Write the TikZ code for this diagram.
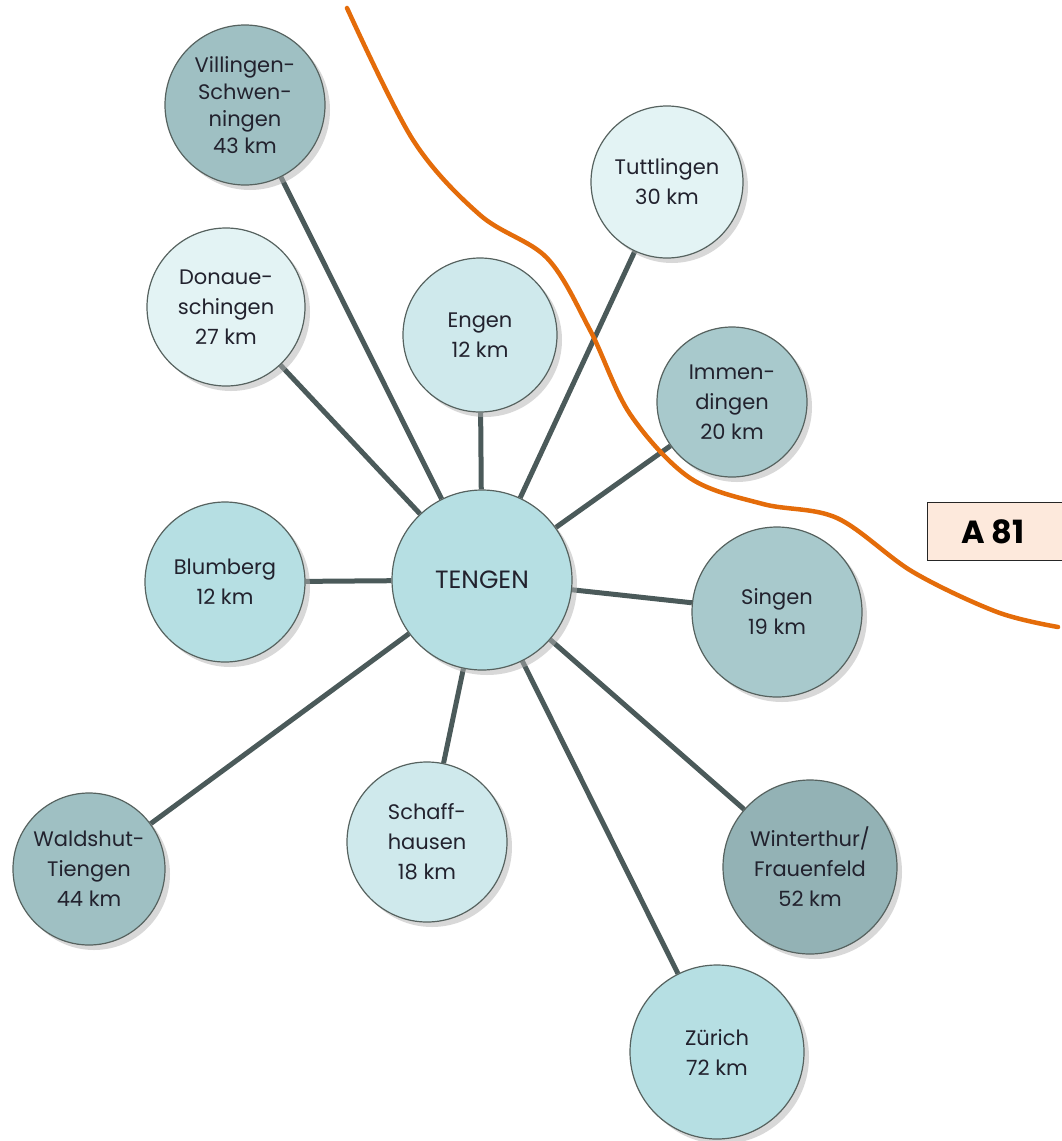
\documentclass[tikz,border=0pt]{standalone}
\usepackage{fontspec}
\setmainfont{Poppins}
\usepackage{tikz}
\usetikzlibrary{shadows,backgrounds}

\definecolor{rimgray}{HTML}{56625F}
\definecolor{linkgray}{HTML}{4B5A5A}
\definecolor{roadorange}{HTML}{E46C0A}
\definecolor{textdark}{HTML}{22222E}
\definecolor{fillpale}{HTML}{E3F3F4}
\definecolor{filllight}{HTML}{CFE9EC}
\definecolor{fillmid}{HTML}{B6DFE3}
\definecolor{fillgrey}{HTML}{A8C9CC}
\definecolor{filldark}{HTML}{9FC0C3}
\definecolor{filldeep}{HTML}{93B2B5}
\definecolor{signfill}{HTML}{FDE9DC}

\begin{document}
\begin{tikzpicture}[x=1pt,y=-1pt]
\tikzstyle{main}=[circle, draw=rimgray, line width=1.2pt, inner sep=0pt, align=center, text=textdark, font=\fontsize{21}{30}\selectfont, drop shadow={shadow xshift=5pt, shadow yshift=-5pt, fill=black!30}]

\tikzstyle{connect}=[line width=5pt, draw=linkgray]
\tikzstyle{road}=[line width=4.5pt, draw=roadorange, line cap=round]
\tikzstyle{sign}=[rectangle, draw=black!85, line width=1.2pt, fill=signfill, font=\fontsize{32}{32}\selectfont\bfseries]
\useasboundingbox (0,0) rectangle (1061,1141);

  \node[main, fill=fillmid, minimum size=180, font=\fontsize{25}{30}\selectfont] (tengen) at (482,580) {TENGEN};
  \node[main, fill=filldark, minimum size=160, font=\fontsize{21}{27}\selectfont] (villingen) at (245,105) {Villingen-\\Schwen-\\ningen\\43 km};
  \node[main, fill=fillpale, minimum size=152] (tuttlingen) at (667,182) {Tuttlingen\\30 km};
  \node[main, fill=fillpale, minimum size=158] (donau) at (226,307) {Donaue-\\schingen\\27 km};
  \node[main, fill=filllight, minimum size=154] (engen) at (480,335) {Engen\\12 km};
  \node[main, fill=fillgrey, minimum size=150] (immen) at (732,402) {Immen-\\dingen\\20 km};
  \node[main, fill=fillmid, minimum size=160] (blumberg) at (225,582) {Blumberg\\12 km};
  \node[main, fill=fillgrey, minimum size=170] (singen) at (777,612) {Singen\\19 km};
  \node[main, fill=filllight, minimum size=160] (schaff) at (427,842) {Schaff-\\hausen\\18 km};
  \node[main, fill=filldark, minimum size=152] (waldshut) at (89,869) {Waldshut-\\Tiengen\\44 km};
  \node[main, fill=filldeep, minimum size=174] (winterthur) at (810,867) {Winterthur/\\Frauenfeld\\52 km};
  \node[main, fill=fillmid, minimum size=174] (zuerich) at (717,1052) {Zürich\\72 km};

\begin{scope}[on background layer]
\foreach \n in {villingen,tuttlingen,donau,engen,immen,blumberg,singen,schaff,waldshut,winterthur,zuerich}
  \draw[connect] (tengen) -- (\n);
\end{scope}

% Autobahn
\draw[road] plot[smooth, tension=0.55] coordinates {(347,8) (413,140) (480,215) (547,258) (590,330) (630,414) (690,478) (763,504) (837,518) (913,572) (997,612) (1058,627)};

\node[sign, minimum width=150, minimum height=58, anchor=north west] (a81) at (927,502) {A 81\hspace*{20pt}};
\end{tikzpicture}
\end{document}
